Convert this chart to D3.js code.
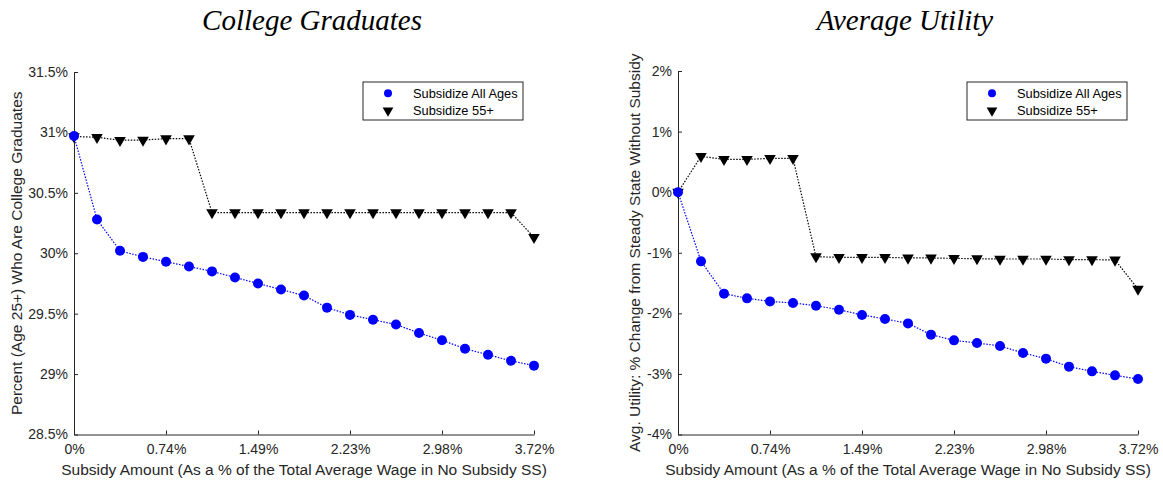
<!DOCTYPE html>
<html>
<head>
<meta charset="utf-8">
<script src="https://cdn.jsdelivr.net/npm/d3@7"></script>
<style>
  body { margin: 0; background: #fff; }
  svg { display: block; font-family: "Liberation Sans", Arial, sans-serif; }
  .title { font-family: "Liberation Serif", "DejaVu Serif", serif; font-style: italic; }
</style>
</head>
<body>
<svg id="chart" width="1163" height="482"></svg>
<script>
// x positions (subsidy amount, % of avg wage) - 21 steps up to 3.72%
const steps = d3.range(21);
const subsidyMax = 3.72;
const xTickLabels = ['0%', '0.74%', '1.49%', '2.23%', '2.98%', '3.72%'];

// College graduates (%)
const gradAllAges = [30.97, 30.28, 30.02, 29.97, 29.93, 29.89, 29.85, 29.80, 29.75, 29.70, 29.65,
  29.55, 29.49, 29.45, 29.41, 29.34, 29.28, 29.21, 29.16, 29.11, 29.07];
const grad55 = [30.966, 30.96, 30.935, 30.937, 30.948, 30.948, 30.337, 30.337, 30.337, 30.337, 30.337,
  30.337, 30.337, 30.337, 30.337, 30.337, 30.337, 30.337, 30.337, 30.337, 30.131];

// Avg utility, % change from no subsidy SS
const utilAllAges = [0, -1.142, -1.675, -1.753, -1.803, -1.829, -1.874, -1.940, -2.027, -2.093, -2.166,
  -2.352, -2.446, -2.489, -2.539, -2.654, -2.748, -2.880, -2.958, -3.024, -3.084];
const util55 = [0, 0.591, 0.541, 0.541, 0.558, 0.558, -1.065, -1.076, -1.076, -1.076, -1.086,
  -1.086, -1.093, -1.098, -1.103, -1.103, -1.103, -1.114, -1.114, -1.119, -1.598];

const legendNames = ['Subsidize All Ages', 'Subsidize 55+'];

const svg = d3.select('#chart');
const axisColor = '#262626';

function drawPanel(opts) {
  const g = svg.append('g');
  const x = d3.scaleLinear().domain([0, subsidyMax]).range([opts.left, opts.left + 460]);
  const y = d3.scaleLinear().domain(opts.yDomain).range([434.5, opts.top]);
  const xVal = i => subsidyMax * i / 20;

  // axes (ticks pointing inward, like MATLAB)
  const xAxis = d3.axisBottom(x)
    .tickValues(xTickLabels.map((d, i) => subsidyMax * i / 5))
    .tickFormat((d, i) => xTickLabels[i])
    .tickSizeInner(-4).tickSizeOuter(0).tickPadding(8);
  const gx = g.append('g').attr('transform', `translate(0,${y.range()[0]})`).call(xAxis);

  const yAxis = d3.axisLeft(y)
    .tickValues(opts.yTicks)
    .tickFormat(opts.yFormat)
    .tickSizeInner(-4).tickSizeOuter(0).tickPadding(6);
  const gy = g.append('g').attr('transform', `translate(${opts.left},0)`).call(yAxis);

  [gx, gy].forEach(a => {
    a.select('.domain').attr('stroke', axisColor).attr('stroke-width', 1);
    a.selectAll('.tick line').attr('stroke', axisColor);
    a.selectAll('.tick text').attr('fill', axisColor).style('font-size', '14px');
  });
  gx.selectAll('.tick text').attr('dy', '0.85em');

  // axis labels
  g.append('text')
    .attr('x', opts.left + 230).attr('y', 475)
    .attr('text-anchor', 'middle')
    .attr('fill', axisColor)
    .style('font-size', '15.5px')
    .text('Subsidy Amount (As a % of the Total Average Wage in No Subsidy SS)');

  g.append('text')
    .attr('transform', `translate(${opts.ylabelX},${(opts.top + 434.5) / 2}) rotate(-90)`)
    .attr('text-anchor', 'middle')
    .attr('fill', axisColor)
    .style('font-size', '15.5px')
    .text(opts.ylabel);

  // title
  g.append('text')
    .attr('class', 'title')
    .attr('x', opts.titleX).attr('y', 30)
    .attr('text-anchor', 'middle')
    .style('font-size', '29px')
    .text(opts.title);

  const line = d3.line().x((d, i) => x(xVal(i))).y(d => y(d));

  // black series (55+)
  g.append('path')
    .datum(opts.s55)
    .attr('d', line)
    .attr('fill', 'none')
    .attr('stroke', '#000')
    .attr('stroke-width', 1.2)
    .attr('stroke-dasharray', '1.5,1.5');

  const tri = d3.symbol().type(d3.symbolTriangle).size(58);
  g.selectAll('.tri')
    .data(opts.s55)
    .enter()
    .append('path')
    .attr('d', tri)
    .attr('fill', '#000')
    .attr('transform', (d, i) => `translate(${x(xVal(i))},${y(d)}) rotate(180)`);

  // blue series (all ages)
  g.append('path')
    .datum(opts.sAll)
    .attr('d', line)
    .attr('fill', 'none')
    .attr('stroke', '#0000ff')
    .attr('stroke-width', 1.2)
    .attr('stroke-dasharray', '1.5,1.5');

  g.selectAll('.dot')
    .data(opts.sAll)
    .enter()
    .append('circle')
    .attr('cx', (d, i) => x(xVal(i)))
    .attr('cy', d => y(d))
    .attr('r', 5)
    .attr('fill', '#0000ff');

  // legend
  const lx = opts.left + 289, ly = 82;
  const leg = g.append('g').attr('transform', `translate(${lx},${ly})`);
  leg.append('rect')
    .attr('width', 160).attr('height', 38)
    .attr('fill', '#fff')
    .attr('stroke', axisColor)
    .attr('stroke-width', 1);
  leg.append('circle').attr('cx', 25).attr('cy', 11.3).attr('r', 4).attr('fill', '#0000ff');
  leg.append('path')
    .attr('d', d3.symbol().type(d3.symbolTriangle).size(50))
    .attr('fill', '#000')
    .attr('transform', 'translate(25,28.5) rotate(180)');
  leg.selectAll('.lt')
    .data(legendNames)
    .enter()
    .append('text')
    .attr('x', 50)
    .attr('y', (d, i) => 15.5 + i * 17.5)
    .style('font-size', '12.8px')
    .attr('fill', '#000')
    .text(d => d);
}

drawPanel({
  left: 74, top: 72,
  yDomain: [28.5, 31.5],
  yTicks: [28.5, 29, 29.5, 30, 30.5, 31, 31.5],
  yFormat: d => d + '%',
  ylabel: 'Percent (Age 25+) Who Are College Graduates',
  ylabelX: 22,
  titleX: 312,
  title: 'College Graduates',
  sAll: gradAllAges,
  s55: grad55
});

drawPanel({
  left: 678, top: 71,
  yDomain: [-4, 2],
  yTicks: [-4, -3, -2, -1, 0, 1, 2],
  yFormat: d => d + '%',
  ylabel: 'Avg. Utility: % Change from Steady State Without Subsidy',
  ylabelX: 640,
  titleX: 905,
  title: 'Average Utility',
  sAll: utilAllAges,
  s55: util55
});
</script>
</body>
</html>
